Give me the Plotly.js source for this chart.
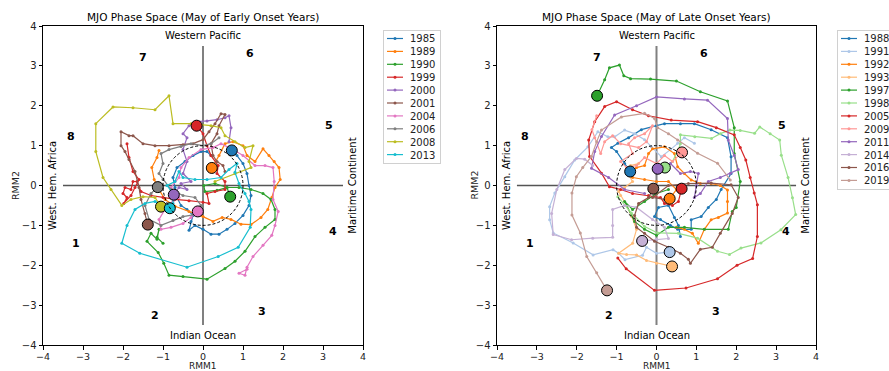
<!DOCTYPE html>
<html>
<head>
<meta charset="utf-8">
<script src="https://cdn.plot.ly/plotly-3.0.1.min.js"></script>
<style>html,body{margin:0;padding:0;background:#fff;}#chart{width:889px;height:371px;}</style>
</head>
<body>
<div id="chart"></div>
<script>
// ---------- DATA ----------
const earlyYears = ['1985','1989','1990','1999','2000','2001','2004','2006','2008','2013'];
const lateYears  = ['1988','1991','1992','1993','1997','1998','2005','2009','2011','2014','2016','2019'];
const tickVals = [-4,-3,-2,-1,0,1,2,3,4];
const phaseLabels = ['1','2','3','4','5','6','7','8'];
const phaseX = [-3.18,-1.2,1.48,3.25,3.15,1.18,-1.5,-3.3];
const phaseY = [-1.45,-3.25,-3.15,-1.16,1.5,3.32,3.2,1.23];

// early onset years (RMM1 = x, RMM2 = y)
const e1985x = [0.72,0.85,1.0,1.1,1.15,1.2,1.15,1.0,0.8,0.6,0.4,0.2,0.0,-0.2,-0.35,-0.3,-0.25,-0.4,-0.55,-0.65,-0.7,-0.75,-0.65,-0.45,-0.25,-0.05,0.1,0.2];
const e1985y = [0.88,0.75,0.55,0.3,0.0,-0.25,-0.5,-0.75,-0.95,-1.1,-1.22,-1.22,-1.1,-1.0,-1.12,-0.9,-0.75,-0.6,-0.5,-0.3,-0.05,0.2,0.45,0.6,0.75,0.85,0.85,0.75];
const e1989x = [0.22,0.4,0.55,0.75,1.0,1.1,1.3,1.5,1.65,1.78,1.9,1.93,1.8,1.72,1.62,1.45,1.2,0.95,0.7,0.48,0.25,0.0,-0.35,-0.7,-0.95,-1.1,-1.22,-1.28,-1.15,-1.1];
const e1989y = [0.44,0.75,1.05,1.1,1.0,0.75,0.6,0.92,0.75,0.6,0.45,0.15,-0.05,-0.3,-0.6,-0.8,-0.98,-0.97,-0.85,-0.8,-0.9,-0.78,-0.65,-0.52,-0.35,-0.1,0.15,0.45,0.7,0.88];
const e1990x = [0.68,0.6,0.35,0.05,0.02,0.3,0.6,0.9,1.2,1.5,1.7,1.8,1.8,1.55,1.3,1.05,0.8,0.55,0.1,-0.5,-0.85,-0.98,-1.12,-1.4,-1.3,-1.15,-1.1,-1.15,-1.0];
const e1990y = [-0.28,-0.05,-0.12,-0.15,0.0,0.05,-0.05,-0.05,-0.1,-0.2,-0.35,-0.6,-0.85,-1.05,-1.28,-1.65,-1.9,-2.08,-2.35,-2.28,-2.25,-1.95,-1.68,-1.4,-1.2,-1.35,-1.1,-1.3,-1.45];
const e1999x = [-0.16,0.0,0.1,0.2,0.38,0.35,0.55,0.55,0.3,0.1,0.15,0.0,-0.35,-0.7,-1.0,-1.3,-1.55,-1.65,-1.75,-1.8,-1.95,-2.0,-1.9,-1.98,-1.8,-1.7,-1.6,-1.75,-1.85,-1.9];
const e1999y = [1.5,1.3,1.0,0.75,0.5,0.3,0.1,-0.1,-0.15,-0.2,-0.45,-0.42,-0.38,-0.35,-0.3,-0.25,-0.15,0.1,0.1,-0.1,-0.05,-0.2,-0.3,-0.45,-0.25,-0.05,0.15,0.35,0.7,1.05];
const e2000x = [-0.73,-0.6,-0.4,-0.55,-0.3,-0.5,-0.4,-0.5,-0.4,-0.5,-0.35,-0.15,0.1,0.35,0.55,0.65,0.7,0.65];
const e2000y = [-0.23,-0.05,-0.1,0.05,0.1,0.3,0.6,0.9,1.2,1.3,1.5,1.6,1.62,1.65,1.7,1.75,1.45,1.1];
const e2001x = [-1.38,-1.45,-1.55,-1.6,-1.7,-1.85,-1.95,-2.05,-2.05,-1.85,-1.75,-1.5,-1.2,-0.85,-0.5,-0.25,0.0,0.15,0.3,0.45,0.55,0.4,0.35,0.2,0.25,0.35,0.5,0.55];
const e2001y = [-0.98,-0.7,-0.35,-0.05,0.35,0.65,0.85,1.0,1.35,1.25,1.25,1.05,1.0,1.0,1.02,1.05,1.15,1.35,1.55,1.8,1.78,1.5,1.3,1.05,0.75,0.6,0.5,0.35];
const e2004x = [-0.13,-0.3,-0.5,-0.8,-1.05,-1.1,-0.95,-0.75,-0.6,-0.8,-0.6,-0.55,-0.35,-0.05,0.25,0.45,0.75,1.0,1.3,1.55,1.75,1.78,1.75,1.88,1.8,1.72,1.5,1.25,1.1,1.05,0.9,1.1];
const e2004y = [-0.65,-0.8,-0.95,-1.05,-1.1,-0.85,-0.6,-0.4,-0.3,-0.05,0.2,0.45,0.7,0.9,0.95,1.05,0.9,0.75,0.5,0.5,0.45,0.1,-0.35,-0.65,-1.0,-1.25,-1.5,-1.78,-2.05,-2.25,-2.2,-2.1];
const e2006x = [-1.13,-1.3,-1.45,-1.35,-1.05,-0.75,-0.5,-0.15,-0.05,-0.2,-0.5,-0.8,-1.0,-1.1,-1.0,-1.05,-0.85,-0.55,-0.3,0.0,0.2,0.4];
const e2006y = [-0.04,-0.2,-0.5,-0.85,-1.0,-0.88,-0.78,-0.72,-0.5,-0.3,-0.25,-0.1,0.15,0.3,0.55,0.8,0.9,0.98,1.05,1.0,1.05,1.2];
const e2008x = [-1.05,-1.2,-1.5,-1.8,-2.03,-2.3,-2.5,-2.68,-2.68,-2.25,-1.75,-1.2,-0.85,-0.75,-0.3,0.2,0.45,0.55,0.8,1.05,1.25,1.15,1.2,0.8,0.3];
const e2008y = [-0.53,-0.3,-0.28,-0.35,-0.5,-0.1,0.2,0.85,1.55,1.97,1.95,1.9,2.25,1.55,1.55,1.5,1.45,1.25,1.1,0.95,1.0,0.6,0.45,0.3,0.1];
const e2013x = [-0.83,-1.2,-1.45,-1.7,-1.9,-2.03,-1.58,-0.4,0.38,0.88,1.18,1.2,1.15,1.05,0.9,0.8,0.85,0.65,0.45,0.1,-0.2,-0.5,-0.6,-0.7,-0.9,-0.75,-0.75];
const e2013y = [-0.57,-0.4,-0.45,-0.6,-1.0,-1.45,-1.7,-2.05,-1.78,-1.55,-1.05,-0.6,-0.4,-0.2,0.05,0.33,0.55,0.4,0.2,0.15,0.15,0.2,0.35,0.1,0.0,-0.2,-0.45];

// late onset years
const l1988x = [-0.66,-0.8,-1.0,-1.13,-0.97,-0.7,-0.38,0.0,0.2,0.6,0.95,1.37,1.78,1.87,1.87,1.62,1.5,1.3,1.12,0.87,0.87,0.53,0.35,0.1,-0.05,0.05,0.3,0.45,0.55,0.6];
const l1988y = [0.35,0.55,0.85,0.95,1.06,1.2,1.4,1.5,1.55,1.55,1.55,1.4,1.2,0.72,0.3,-0.1,-0.35,-0.55,-0.78,-0.86,-1.1,-1.1,-1.0,-0.85,-0.78,-0.55,-0.5,-0.8,-1.0,-1.28];
const l1991x = [0.33,0.0,-0.25,-0.35,-0.79,-0.95,-1.09,-1.59,-2.09,-2.59,-2.68,-2.68,-2.55,-2.3,-2.05,-1.72,-1.47,-1.22,-1.05,-0.8,-0.55,-0.3,-0.13,0.12,0.35,0.53,0.7,0.95];
const l1991y = [-1.67,-1.7,-1.55,-1.75,-1.86,-1.7,-1.61,-1.74,-1.44,-1.19,-0.86,-0.53,-0.19,0.22,0.64,0.97,1.35,1.22,1.22,1.39,1.3,1.15,0.97,0.72,0.9,1.06,1.2,1.06];
const l1992x = [0.33,0.5,0.3,0.0,-0.3,-0.6,-0.72,-0.5,-0.3,-0.2,-0.1,0.2,0.45,0.53,0.7,0.87,1.1,1.37,1.6,1.78,1.78,1.78,1.55,1.37,1.2,1.05,0.9,0.7,0.5];
const l1992y = [-0.33,-0.1,0.1,0.1,0.15,0.2,0.3,0.45,0.5,0.8,0.92,0.97,0.8,0.47,0.3,0.14,0.05,0.05,0.0,-0.11,-0.4,-0.69,-0.8,-0.86,-1.1,-1.45,-1.2,-1.1,-1.05];
const l1993x = [0.39,0.0,-0.25,-0.5,-0.75,-0.95,-0.6,-0.5,-0.62,-0.75,-0.9,-0.95,-0.8,-0.6,-0.75,-0.65,-0.45];
const l1993y = [-2.03,-1.95,-1.88,-1.74,-1.73,-1.7,-1.45,-1.1,-0.78,-0.5,-0.25,-0.15,-0.05,0.1,0.35,0.5,0.55];
const l1997x = [-1.49,-1.3,-1.18,-0.93,-0.82,-0.65,-0.15,0.5,1.1,1.78,1.95,1.95,2.1,2.0,1.9,1.8,1.2,0.7,0.3,0.0,-0.3,-0.55,-0.8,-0.6,-0.3,0.0,0.3];
const l1997y = [2.25,2.65,2.95,3.02,2.75,2.68,2.67,2.62,2.35,2.12,1.45,0.8,0.1,-0.55,-0.65,-1.1,-1.1,-1.05,-1.05,-1.25,-1.1,-0.9,-0.4,-0.6,-0.4,-0.2,-0.1];
const l1998x = [0.21,0.4,0.55,0.6,0.6,0.96,1.38,1.6,1.84,2.1,2.46,2.59,2.85,3.09,3.13,3.3,3.41,3.49,3.12,2.62,2.12,1.83,1.53,1.03,0.55,0.03,-0.3,-0.63,-0.97];
const l1998y = [0.45,0.6,0.9,1.05,1.27,1.22,1.18,1.3,1.39,1.38,1.31,1.47,1.3,1.14,0.76,0.2,-0.31,-0.73,-1.11,-1.44,-1.57,-1.73,-1.65,-1.32,-1.2,-1.19,-1.03,-0.69,-0.28];
const l2005x = [0.63,0.55,0.4,0.2,0.1,-0.2,-0.6,-0.9,-1.18,-1.38,-1.68,-1.7,-1.55,-1.3,-1.0,-0.6,-0.2,0.37,1.03,1.5,1.95,2.1,2.24,2.35,2.45,2.53,2.53,2.41,2.02,1.53,0.74,-0.05,-0.76,-0.97];
const l2005y = [-0.08,-0.4,-0.5,-0.45,-0.3,-0.25,-0.2,-0.1,-0.03,0.31,0.73,1.14,1.6,1.98,2.1,1.9,1.75,1.64,1.6,1.45,1.27,0.95,0.64,0.2,-0.19,-0.48,-1.28,-1.83,-2.0,-2.34,-2.57,-2.63,-2.09,-1.82];
const l2009x = [0.64,0.4,0.2,0.0,-0.3,-0.5,-0.75,-0.9,-0.6,-0.7,-0.55,-0.3,-0.1,-0.25,-0.45,-0.9,-1.1,-1.3,-1.4,-1.55,-1.62,-1.5];
const l2009y = [0.83,0.6,0.75,0.55,0.7,0.5,0.45,0.6,0.8,1.05,1.2,1.3,1.5,1.1,0.95,1.05,1.25,1.1,0.8,1.2,1.4,1.75];
const l2011x = [0.03,0.35,0.6,0.85,1.05,1.0,0.95,1.1,1.3,1.6,1.85,2.05,1.95,1.8,1.78,1.28,0.7,0.0,-0.5,-1.05,-1.38,-1.55,-1.63,-1.2,-0.8,-0.3];
const l2011y = [0.42,0.55,0.3,0.35,0.3,0.0,-0.3,-0.2,0.1,0.2,0.3,0.4,0.75,1.14,1.68,2.14,2.17,2.22,2.0,1.77,1.23,0.85,0.43,0.2,-0.1,-0.2];
const l2014x = [-0.36,0.0,0.3,0.2,-0.1,-0.5,-0.8,-1.1,-1.1,-1.1,-1.6,-2.13,-2.59,-2.63,-2.5,-2.3,-2.01,-1.8,-1.6];
const l2014y = [-1.39,-1.35,-1.33,-1.05,-0.85,-0.55,-0.5,-0.6,-1.0,-1.3,-1.32,-1.36,-1.23,-0.7,-0.1,0.4,0.68,0.66,0.5];
const l2016x = [-0.08,-0.2,-0.45,-0.55,-0.5,-0.3,-0.05,0.3,0.6,0.8,0.85,1.1,1.4,1.6,1.9,2.05,1.87,1.37,0.8,0.3,-0.1,0.2];
const l2016y = [-0.08,-0.3,-0.45,-0.75,-1.05,-1.2,-1.4,-1.55,-1.7,-1.85,-1.95,-1.6,-1.55,-1.2,-0.7,-0.3,0.02,0.06,0.05,0.0,-0.3,-0.35];
const l2019x = [-1.24,-1.5,-1.75,-1.91,-2.12,-2.12,-2.01,-1.85,-1.63,-1.5,-1.38,-0.88,-0.3,-0.05,0.03,0.3,0.53,1.03,1.53,1.85];
const l2019y = [-2.63,-2.19,-1.78,-1.19,-0.74,-0.19,0.22,0.45,0.73,1.1,1.39,1.72,1.81,1.68,1.45,1.3,1.14,0.81,0.56,0.14];

const earlyX = [e1985x,e1989x,e1990x,e1999x,e2000x,e2001x,e2004x,e2006x,e2008x,e2013x];
const earlyY = [e1985y,e1989y,e1990y,e1999y,e2000y,e2001y,e2004y,e2006y,e2008y,e2013y];
const lateX = [l1988x,l1991x,l1992x,l1993x,l1997x,l1998x,l2005x,l2009x,l2011x,l2014x,l2016x,l2019x];
const lateY = [l1988y,l1991y,l1992y,l1993y,l1997y,l1998y,l2005y,l2009y,l2011y,l2014y,l2016y,l2019y];

// ---------- STYLE ----------
const tab10 = ['#1f77b4','#ff7f0e','#2ca02c','#d62728','#9467bd','#8c564b','#e377c2','#7f7f7f','#bcbd22','#17becf'];
const tab20 = ['#1f77b4','#aec7e8','#ff7f0e','#ffbb78','#2ca02c','#98df8a','#d62728','#ff9896','#9467bd','#c5b0d5','#8c564b','#c49c94'];
const FONT = 'DejaVu Sans, Liberation Sans, sans-serif';

const traces = [];
const startMarkers = [];
function addSet(years, xs, ys, colors, xa, ya, leg) {
  years.forEach((yr, i) => {
    traces.push({
      type: 'scatter', mode: 'lines+markers', name: yr,
      x: xs[i], y: ys[i], xaxis: xa, yaxis: ya, legend: leg,
      line: {color: colors[i], width: 1.2},
      marker: {color: colors[i], size: 3}
    });
    startMarkers.push({
      type: 'scatter', mode: 'markers', showlegend: false, hoverinfo: 'skip',
      x: [xs[i][0]], y: [ys[i][0]], xaxis: xa, yaxis: ya,
      marker: {color: colors[i], size: 11, line: {color: '#000', width: 1}}
    });
  });
}
addSet(earlyYears, earlyX, earlyY, tab10, 'x', 'y', 'legend');
addSet(lateYears, lateX, lateY, tab20, 'x2', 'y2', 'legend2');

const axisBase = {
  range: [-4, 4], tickvals: tickVals, ticks: 'outside', ticklen: 3.5, tickwidth: 1, tickcolor: '#000',
  showline: true, linecolor: '#000', linewidth: 1, mirror: true, showgrid: false, zeroline: false,
  tickfont: {family: FONT, size: 10, color: '#222'}, fixedrange: true, automargin: false
};
const xAxisExtra = {tickfont: {family: FONT, size: 9.5, color: '#222'}, ticklabelstandoff: -1};
const W = 889, H = 371, ML = 43, MR = 73, MT = 26, MB = 26;
const PW = W - ML - MR, PH = H - MT - MB;

function subplotDecor(xr, yr, yTitleOffset) {
  const shapes = [
    {type: 'line', xref: xr, yref: yr, x0: 0, x1: 0, y0: -3.5, y1: 3.5, line: {color: '#808080', width: 2}, layer: 'below'},
    {type: 'line', xref: xr, yref: yr, x0: -3.5, x1: 3.5, y0: 0, y1: 0, line: {color: '#555555', width: 1.6}, layer: 'below'},
    {type: 'circle', xref: xr, yref: yr, x0: -1, x1: 1, y0: -1, y1: 1, line: {color: '#000', width: 1, dash: '3px,2px'}, layer: 'above'}
  ];
  const f10 = {family: FONT, size: 10, color: '#000'};
  const ann = [];
  phaseLabels.forEach((p, i) => ann.push({xref: xr, yref: yr, x: phaseX[i], y: phaseY[i], text: '<b>' + p + '</b>', showarrow: false, font: {family: FONT, size: 11, color: '#000'}}));
  ann.push({xref: xr, yref: yr, x: 0, y: 3.75, text: 'Western Pacific', showarrow: false, font: f10});
  ann.push({xref: xr, yref: yr, x: 0, y: -3.75, text: 'Indian Ocean', showarrow: false, font: f10});
  ann.push({xref: xr, yref: yr, x: -3.76, y: 0, text: 'West. Hem. Africa', textangle: -90, showarrow: false, font: f10});
  ann.push({xref: xr, yref: yr, x: 3.73, y: 0, text: 'Maritime Continent', textangle: -90, showarrow: false, font: f10});
  // axis titles
  const fT = {family: FONT, size: 9, color: '#222'};
  ann.push({xref: xr + ' domain', yref: yr + ' domain', x: 0.5, y: -20.5 / PH, yanchor: 'middle', text: 'RMM1', showarrow: false, font: fT, borderpad: 0});
  ann.push({xref: xr + ' domain', yref: yr + ' domain', x: -yTitleOffset / 320, y: 0.5, xanchor: 'center', text: 'RMM2', textangle: -90, showarrow: false, font: {family: FONT, size: 9.5, color: '#222'}});
  return {shapes, ann};
}
const d1 = subplotDecor('x', 'y', 27.5);
const d2 = subplotDecor('x2', 'y2', 23);
const titles = [
  {xref: 'x domain', yref: 'y domain', x: 0.5, y: 1 + 9 / PH, yanchor: 'middle', text: 'MJO Phase Space (May of Early Onset Years)', showarrow: false, font: {family: FONT, size: 10.5, color: '#000'}},
  {xref: 'x2 domain', yref: 'y2 domain', x: 0.5, y: 1 + 9 / PH, yanchor: 'middle', text: 'MJO Phase Space (May of Late Onset Years)', showarrow: false, font: {family: FONT, size: 10.5, color: '#000'}}
];

const legendBase = {
  font: {family: FONT, size: 10, color: '#222'}, bgcolor: '#fff', bordercolor: '#d0d0d0', borderwidth: 1,
  xanchor: 'left', yanchor: 'top', yref: 'paper', xref: 'paper', itemwidth: 30, tracegroupgap: 0
};

const layout = {
  width: W, height: H,
  margin: {l: ML, r: MR, t: MT, b: MB, autoexpand: false},
  paper_bgcolor: '#fff', plot_bgcolor: '#fff',
  font: {family: FONT, size: 10, color: '#222'},
  showlegend: true,
  xaxis: Object.assign({}, axisBase, xAxisExtra, {domain: [0, 320 / PW], anchor: 'y'}),
  yaxis: Object.assign({}, axisBase, {domain: [0, 1], anchor: 'x'}),
  xaxis2: Object.assign({}, axisBase, xAxisExtra, {domain: [454 / PW, 1], anchor: 'y2'}),
  yaxis2: Object.assign({}, axisBase, {domain: [0, 1], anchor: 'x2'}),
  legend: Object.assign({}, legendBase, {x: 340 / PW, y: 1 - 4 / PH}),
  legend2: Object.assign({}, legendBase, {x: 794 / PW, y: 1 - 4 / PH}),
  shapes: d1.shapes.concat(d2.shapes),
  annotations: d1.ann.concat(d2.ann, titles)
};

// compact the legends to matplotlib-like spacing (row pitch 12.9px, short line samples)
function compactLegend(gd, id) {
  const g = gd.querySelector('g.' + id);
  if (!g) return;
  const items = g.querySelectorAll('g.traces');
  let maxW = 0;
  items.forEach((it, i) => {
    it.setAttribute('transform', 'translate(1,' + (8.5 + i * 12.9) + ')');
    const line = it.querySelector('g.legendlines path');
    if (line) line.setAttribute('d', 'M3,0h16');
    const pts = it.querySelectorAll('g.legendpoints path');
    pts.forEach(p => p.setAttribute('transform', 'translate(11,0)'));
    const t = it.querySelector('text');
    if (t) {
      t.setAttribute('x', 26);
      t.querySelectorAll('tspan').forEach(s => { if (s.hasAttribute('x')) s.setAttribute('x', 26); });
      try { maxW = Math.max(maxW, t.getBBox().width); } catch (e) {}
    }
  });
  const bg = g.querySelector('rect.bg');
  if (bg) {
    bg.setAttribute('height', 17 + (items.length - 1) * 12.9);
    bg.setAttribute('width', 27 + maxW + 5);
  }
}

Plotly.newPlot('chart', traces.concat(startMarkers), layout, {staticPlot: true, displayModeBar: false}).then(gd => {
  compactLegend(gd, 'legend');
  compactLegend(gd, 'legend2');
});
</script>
</body>
</html>
